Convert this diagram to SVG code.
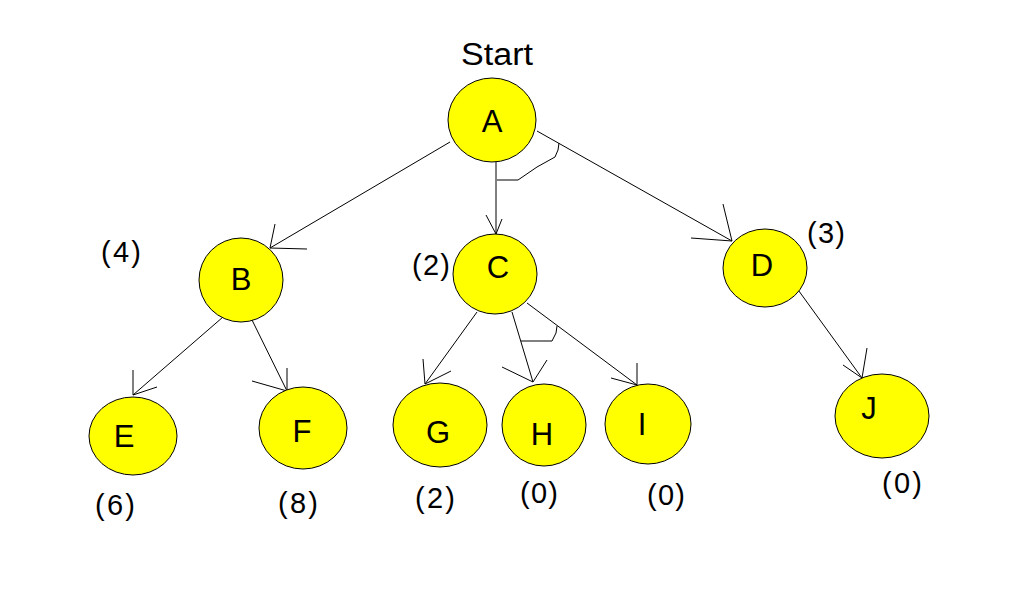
<svg xmlns="http://www.w3.org/2000/svg" width="1022" height="596" viewBox="0 0 1022 596">
<style>
.n{fill:#ffff00;stroke:#000;stroke-width:1}
.t{font-family:"Liberation Sans",Arial,sans-serif;font-size:31px;fill:#000;text-anchor:middle}
.h{font-family:"Liberation Sans",Arial,sans-serif;font-size:29px;fill:#000;text-anchor:middle}
.e{fill:none;stroke:#000;stroke-width:1}
</style>
<rect width="1022" height="596" fill="#fff"/>
<g id="connectors">
<path class="e" d="M450,142 L270,248 M275,224 L270,248 L307,249"/>
<path class="e" d="M496,162 L496,234 M486,215 L496,234 L502,219"/>
<path class="e" d="M537,131 L732,241 M723,204 L732,241 L691,238"/>
<path class="e" d="M497,180 L518,180 L537,167 L555,157 L558,150 L559,143"/>
<path class="e" d="M223,317 L133,395 M133,370 L133,395 L157,387"/>
<path class="e" d="M252,320 L287,391 M287,368 L287,391 L252,381"/>
<path class="e" d="M477,312 L425,384 M423,359 L425,384 L451,371"/>
<path class="e" d="M512,312 L533,382 M547,360 L533,382 L502,367"/>
<path class="e" d="M527,303 L637,385 M637,363 L637,385 L611,378"/>
<path class="e" d="M521,341 L552,341 L556,333 L557,326"/>
<path class="e" d="M796,287 L862,378 M867,348 L862,378 L843,365"/>
</g>
<text class="t" x="497" y="65" textLength="72" lengthAdjust="spacingAndGlyphs">Start</text>
<g id="A"><ellipse class="n" cx="492" cy="120" rx="44" ry="42"/><text class="t" x="492" y="132">A</text></g>
<g id="B"><ellipse class="n" cx="241" cy="280" rx="42" ry="42"/><text class="t" x="241" y="290">B</text></g>
<g id="C"><ellipse class="n" cx="495" cy="274" rx="42" ry="40"/><text class="t" x="498" y="278">C</text></g>
<g id="D"><ellipse class="n" cx="765" cy="268" rx="42" ry="39"/><text class="t" x="762" y="276">D</text></g>
<g id="E"><ellipse class="n" cx="133" cy="436" rx="44" ry="39"/><text class="t" x="124" y="447">E</text></g>
<g id="F"><ellipse class="n" cx="303" cy="428" rx="44" ry="41"/><text class="t" x="302" y="442">F</text></g>
<g id="G"><ellipse class="n" cx="440" cy="425" rx="47" ry="42"/><text class="t" x="438" y="443">G</text></g>
<g id="H"><ellipse class="n" cx="544" cy="425" rx="42" ry="41"/><text class="t" x="542" y="445">H</text></g>
<g id="I"><ellipse class="n" cx="648" cy="424" rx="43" ry="40"/><text class="t" x="642" y="435">I</text></g>
<g id="J"><ellipse class="n" cx="882" cy="416" rx="47" ry="42"/><text class="t" x="869" y="419">J</text></g>
<g id="labels">
<text class="h" x="121" y="262" textLength="40">(4)</text>
<text class="h" x="431" y="275" textLength="38">(2)</text>
<text class="h" x="826" y="243" textLength="38">(3)</text>
<text class="h" x="115" y="515" textLength="40">(6)</text>
<text class="h" x="298" y="513" textLength="40">(8)</text>
<text class="h" x="435" y="508" textLength="40">(2)</text>
<text class="h" x="539" y="503" textLength="38">(0)</text>
<text class="h" x="666" y="505" textLength="38">(0)</text>
<text class="h" x="902" y="493" textLength="40">(0)</text>
</g>
</svg>
